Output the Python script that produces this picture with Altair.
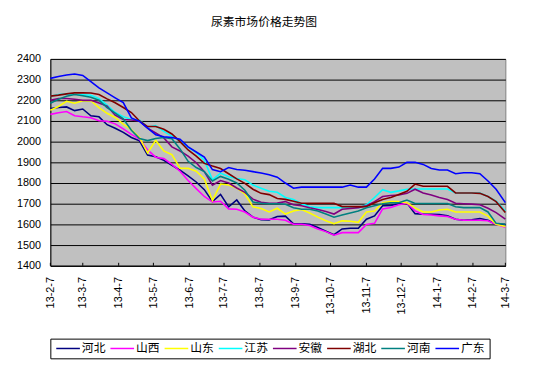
import altair as alt
import pandas as pd

# weekly observation dates (2013-02-07 .. 2014-03-07)
dates = pd.date_range("2013-02-07", periods=57, freq="7D").strftime("%Y-%m-%d").tolist()
dates[-1] = "2014-03-07"

tick_dates = ["2013-02-07", "2013-03-07", "2013-04-07", "2013-05-07", "2013-06-07",
              "2013-07-07", "2013-08-07", "2013-09-07", "2013-10-07", "2013-11-07",
              "2013-12-07", "2014-01-07", "2014-02-07", "2014-03-07"]

names = ["河北", "山西", "山东", "江苏", "安徽", "湖北", "河南", "广东"]
colors = ["#000080", "#FF00FF", "#FFFF00", "#00FFFF", "#800080", "#800000", "#008080", "#0000FF"]

hebei = [2160, 2165, 2168, 2150, 2158, 2125, 2120, 2082, 2065, 2045,
         2020, 2004, 1935, 1927, 1910, 1885, 1862, 1835, 1805, 1768,
         1710, 1745, 1685, 1718, 1665, 1635, 1623, 1622, 1638, 1640,
         1603, 1603, 1600, 1585, 1567, 1550, 1578, 1581, 1581, 1625,
         1641, 1690, 1692, 1700, 1703, 1652, 1649, 1649, 1648, 1642,
         1625, 1620, 1622, 1628, 1620, 1600, 1600]
shanxi = [2132, 2140, 2146, 2125, 2120, 2116, 2101, 2099, 2086, 2062,
          2035, 2012, 1960, 1925, 1918, 1890, 1857, 1812, 1773, 1735,
          1708, 1712, 1675, 1673, 1660, 1635, 1625, 1625, 1625, 1620,
          1601, 1601, 1595, 1578, 1565, 1548, 1560, 1560, 1560, 1600,
          1605, 1675, 1682, 1695, 1702, 1665, 1648, 1645, 1641, 1638,
          1625, 1620, 1620, 1620, 1618, 1600, 1586]
shandong = [2152, 2170, 2195, 2186, 2198, 2198, 2165, 2137, 2117, 2085,
            2058, 2020, 1945, 2006, 1955, 1937, 1872, 1871, 1857, 1820,
            1715, 1795, 1790, 1776, 1748, 1685, 1677, 1660, 1678, 1650,
            1665, 1672, 1655, 1635, 1618, 1603, 1617, 1615, 1610, 1660,
            1665, 1705, 1710, 1710, 1705, 1680, 1660, 1660, 1670, 1673,
            1660, 1660, 1660, 1660, 1640, 1601, 1590]
jiangsu = [2220, 2228, 2231, 2229, 2227, 2224, 2208, 2177, 2141, 2121,
           2107, 2105, 2070, 2078, 2050, 2027, 2003, 1972, 1948, 1910,
           1815, 1848, 1830, 1822, 1816, 1790, 1775, 1760, 1755, 1730,
           1720, 1700, 1685, 1681, 1681, 1681, 1681, 1681, 1681, 1695,
           1730, 1768, 1755, 1762, 1770, 1771, 1771, 1771, 1771, 1771,
           1752, 1752, 1752, 1752, 1735, 1712, 1665]
anhui = [2200, 2209, 2209, 2205, 2200, 2200, 2187, 2172, 2128, 2107,
         2105, 2100, 2065, 2042, 2018, 1975, 1955, 1930, 1898, 1855,
         1790, 1812, 1800, 1776, 1755, 1722, 1707, 1702, 1703, 1710,
         1695, 1690, 1680, 1672, 1662, 1650, 1673, 1677, 1681, 1690,
         1710, 1735, 1740, 1742, 1750, 1770, 1752, 1742, 1730, 1720,
         1702, 1700, 1698, 1695, 1678, 1657, 1625]
hubei = [2220, 2225, 2231, 2236, 2236, 2235, 2228, 2207, 2188, 2165,
         2141, 2100, 2073, 2073, 2060, 2037, 2000, 1960, 1930, 1895,
         1882, 1870, 1845, 1820, 1798, 1770, 1750, 1744, 1725, 1721,
         1712, 1702, 1702, 1702, 1702, 1702, 1686, 1686, 1686, 1686,
         1705, 1720, 1730, 1745, 1760, 1795, 1784, 1784, 1784, 1784,
         1752, 1752, 1752, 1750, 1735, 1710, 1657]
henan = [2186, 2205, 2220, 2228, 2222, 2215, 2200, 2165, 2138, 2110,
         2055, 2015, 2005, 2015, 2020, 2014, 1965, 1905, 1875, 1855,
         1810, 1832, 1818, 1800, 1765, 1708, 1702, 1700, 1700, 1697,
         1680, 1673, 1673, 1665, 1650, 1635, 1645, 1655, 1665, 1680,
         1690, 1700, 1705, 1705, 1718, 1701, 1701, 1701, 1701, 1701,
         1685, 1681, 1681, 1681, 1660, 1605, 1601]
guangdong = [2306, 2315, 2322, 2327, 2320, 2290, 2260, 2236, 2212, 2189,
             2115, 2098, 2065, 2033, 2024, 2020, 2012, 1975, 1950, 1925,
             1865, 1855, 1875, 1865, 1862, 1855, 1848, 1840, 1828, 1800,
             1775, 1780, 1780, 1780, 1780, 1780, 1780, 1790, 1780, 1780,
             1819, 1871, 1871, 1877, 1900, 1900, 1890, 1870, 1863, 1863,
             1845, 1850, 1850, 1845, 1810, 1770, 1705]

series = [hebei, shanxi, shandong, jiangsu, anhui, hubei, henan, guangdong]
rows = []
for name, vals in zip(names, series):
    for d, v in zip(dates, vals):
        rows.append({"日期": d, "价格": v, "地区": name})
df = pd.DataFrame(rows)
tick_df = pd.DataFrame({"日期": tick_dates})


def dt(s):
    y, m, d = (int(p) for p in s.split("-"))
    return alt.DateTime(year=y, month=m, date=d, utc=True)


x_enc = alt.X(
    "日期:T",
    scale=alt.Scale(type="utc", domain=[dt(tick_dates[0]), dt(tick_dates[-1])], nice=False),
    axis=alt.Axis(values=[dt(s) for s in tick_dates],
                  labelExpr="utcFormat(datum.value, '%y-%-m-%-d')",
                  labelAngle=270, labelPadding=11, ticks=False, grid=False,
                  labelFlush=False, labelOverlap=False, domainColor="black", domainWidth=1,
                  title=None, labelFont="Liberation Sans", labelFontSize=11, labelColor="black"),
)
y_enc = alt.Y(
    "价格:Q",
    scale=alt.Scale(domain=[1400, 2400], nice=False, zero=False),
    axis=alt.Axis(values=list(range(1400, 2401, 100)), format="d", grid=True, gridColor="black",
                  gridWidth=1, gridOpacity=1, ticks=False, labelPadding=10,
                  domainColor="black", title=None, labelFont="Liberation Sans",
                  labelFontSize=11, labelColor="black", labelFlush=False, labelOverlap=False),
)

lines = alt.Chart(df).mark_line(strokeWidth=1.6).encode(
    x=x_enc,
    y=y_enc,
    color=alt.Color(
        "地区:N",
        scale=alt.Scale(domain=names, range=colors),
        legend=alt.Legend(orient="none", legendX=0, legendY=284, direction="horizontal",
                          columns=8, title=None, symbolType="M-1,0H5", symbolSize=64,
                          symbolStrokeWidth=1.5, labelFont="Noto Sans CJK SC",
                          labelFontSize=12, labelColor="black", labelOffset=16,
                          columnPadding=1, padding=4, strokeColor="black",
                          fillColor="white"),
    ),
)

ticks = alt.Chart(tick_df).mark_rule(color="black", strokeWidth=1).encode(
    x=x_enc, y=alt.value(207), y2=alt.value(210)
)

chart = alt.layer(lines, ticks).properties(
    width=462,
    height=210,
    title=alt.TitleParams(text="尿素市场价格走势图", font="Noto Sans CJK SC", fontSize=12,
                          fontWeight="normal", color="black", anchor="middle", dx=-14,
                          offset=12, baseline="bottom"),
    padding={"left": 43, "top": 49, "right": 24, "bottom": 94},
    autosize=alt.AutoSizeParams(type="none"),
).configure_view(fill="#C0C0C0", stroke="#808080", strokeWidth=1)

chart.save("out.html", embed_options={"renderer": "svg", "actions": False})
